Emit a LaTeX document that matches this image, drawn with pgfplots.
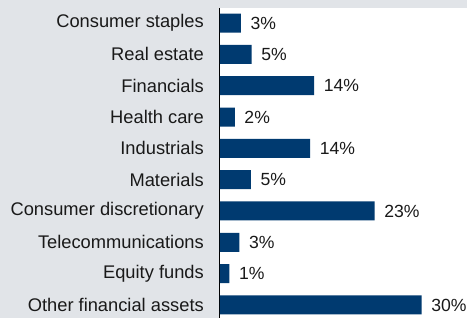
\documentclass[border=0pt]{standalone}
\usepackage{fontspec}
\setmainfont{Liberation Sans}
\usepackage{pgfplots}
\pgfplotsset{compat=1.18}
\definecolor{bg}{RGB}{225,228,232}
\definecolor{barc}{RGB}{0,58,112}
\definecolor{txt}{RGB}{25,25,25}
\pgfplotstableread{
y val lab
0 3.1 3\%
1 4.7 5\%
2 14.0 14\%
3 2.2 2\%
4 13.4 14\%
5 4.6 5\%
6 23.0 23\%
7 2.9 3\%
8 1.4 1\%
9 30.0 30\%
}\datatable
\begin{document}
\fontsize{18}{21}\selectfont
\begin{tikzpicture}[x=1pt,y=1pt]
\clip (0,0) rectangle (467,318);
\fill[bg] (0,0) rectangle (467,318);
\begin{axis}[
  at={(220pt,0pt)}, anchor=south west,
  scale only axis, width=247pt, height=310pt,
  xmin=0, xmax=36.75, ymin=-0.479, ymax=9.415, y dir=reverse,
  axis background/.style={fill=white},
  axis lines*=left,
  x axis line style={draw=none},
  y axis line style={black, line width=1pt},
  xtick=\empty,
  ytick={0,...,9},
  yticklabels={Consumer staples,Real estate,Financials,Health care,Industrials,Materials,Consumer discretionary,Telecommunications,Equity funds,Other financial assets},
  major tick length=0pt,
  yticklabel style={inner sep=0pt, xshift=-16pt, text=txt, font=\fontsize{18.3}{21}\selectfont},
  clip=false,
]
\addplot[xbar, fill=barc, draw=none, bar width=19pt,
  nodes near coords, point meta=explicit symbolic,
  nodes near coords style={anchor=west, inner sep=0pt, xshift=9.5pt, text=txt, font=\fontsize{17.6}{21}\selectfont}]
  table[x=val, y=y, meta=lab] {\datatable};
\end{axis}
\end{tikzpicture}
\end{document}
